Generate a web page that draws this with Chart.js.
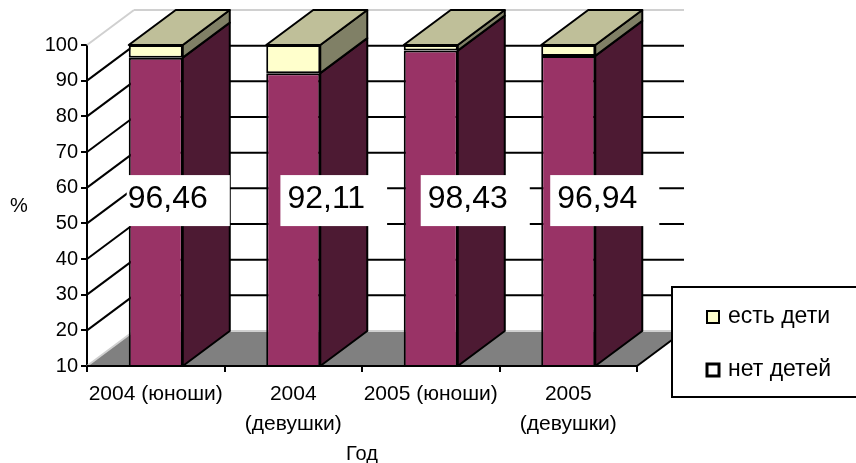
<!DOCTYPE html>
<html>
<head>
<meta charset="utf-8">
<script src="https://cdn.jsdelivr.net/npm/chart.js@4.4.1/dist/chart.umd.min.js"></script>
<style>
  html, body { margin: 0; padding: 0; background: #ffffff; }
  #wrap { width: 856px; height: 463px; }
</style>
</head>
<body>
<div id="wrap"><canvas id="chart" width="856" height="463"></canvas></div>
<script>
// Categories (year / group)
const categories = ['2004 (юноши)', ['2004', '(девушки)'], '2005 (юноши)', ['2005', '(девушки)']];
// Share of respondents, %
const noChildren = [96.46, 92.11, 98.43, 96.94];
const withChildren = [3.54, 7.89, 1.57, 3.06];
const seriesNames = ['нет детей', 'есть дети'];
// Value axis
const yMin = 10;
const yMax = 100;
const yStep = 10;

const FONT = '"Liberation Sans", Arial, Helvetica, sans-serif';
const frontColors = ['#993366', '#FFFFCC'];
const sideColors = ['#4D1A33', '#808066'];
const topColor = '#BFBF99';
const legendSwatch = ['#FFFFFF', '#FFFFCC'];

// Depth of the pseudo-3D box
const DX = 47, DY = 35;
// Value-label placement
const LABEL_LEVEL = 57.5;
const labelShift = [12, 33, 37, 29];

const fmt = v => v.toFixed(2).replace('.', ',');

function seg(ctx, x1, y1, x2, y2) {
  ctx.beginPath(); ctx.moveTo(x1, y1); ctx.lineTo(x2, y2); ctx.stroke();
}
function poly(ctx, pts, fill) {
  ctx.beginPath();
  ctx.moveTo(pts[0][0], pts[0][1]);
  for (let k = 1; k < pts.length; k++) ctx.lineTo(pts[k][0], pts[k][1]);
  ctx.closePath();
  ctx.fillStyle = fill; ctx.fill();
  ctx.strokeStyle = '#000'; ctx.lineWidth = 2; ctx.lineJoin = 'round'; ctx.stroke();
}

const depthPlugin = {
  id: 'depth3d',
  beforeDatasetsDraw(chart) {
    const { ctx, chartArea: a, scales: { y } } = chart;
    const yb = a.bottom;
    ctx.save();
    // floor
    ctx.fillStyle = '#808080';
    ctx.beginPath();
    ctx.moveTo(a.left, yb); ctx.lineTo(a.right, yb);
    ctx.lineTo(a.right + DX, yb - DY); ctx.lineTo(a.left + DX, yb - DY);
    ctx.closePath(); ctx.fill();
    // wall edges
    ctx.strokeStyle = '#d0d0d0'; ctx.lineWidth = 2;
    seg(ctx, a.left, yb, a.left + DX, yb - DY);
    seg(ctx, a.left + DX, yb - DY, a.right + DX, yb - DY);
    seg(ctx, a.left, a.top, a.left + DX, a.top - DY);
    seg(ctx, a.left + DX, a.top - DY, a.right + DX, a.top - DY);
    // gridlines on side and back walls
    ctx.strokeStyle = '#000'; ctx.lineWidth = 2;
    y.ticks.forEach(t => {
      if (t.value <= y.min || t.value >= y.max) return;
      const py = y.getPixelForValue(t.value);
      seg(ctx, a.left, py, a.left + DX, py - DY);
      seg(ctx, a.left + DX, py - DY, a.right + DX, py - DY);
    });
    // right edge of the floor
    seg(ctx, a.right, yb, a.right + DX, yb - DY);
    ctx.restore();
  },
  afterDatasetsDraw(chart) {
    const { ctx, chartArea: a, scales: { y } } = chart;
    ctx.save();
    const metas = chart.data.datasets.map((d, i) => chart.getDatasetMeta(i));
    categories.forEach((c, i) => {
      metas.forEach((meta, d) => {
        const el = meta.data[i];
        const xr = el.x + el.width / 2;
        const top = el.y;
        const bot = Math.min(el.base, a.bottom);
        poly(ctx, [[xr, top], [xr + DX, top - DY], [xr + DX, bot - DY], [xr, bot]], sideColors[d]);
        if (d === metas.length - 1) {
          const xl = el.x - el.width / 2;
          poly(ctx, [[xl, top], [xr, top], [xr + DX, top - DY], [xl + DX, top - DY]], topColor);
        }
      });
    });
    // front edge of the floor
    ctx.strokeStyle = '#000'; ctx.lineWidth = 2;
    seg(ctx, a.left, a.bottom, a.right, a.bottom);

    // value labels
    ctx.font = '32px ' + FONT;
    ctx.textBaseline = 'alphabetic';
    ctx.textAlign = 'left';
    const base = chart.getDatasetMeta(0);
    noChildren.forEach((v, i) => {
      const el = base.data[i];
      const text = fmt(v);
      const w = ctx.measureText(text).width;
      const cx = el.x + labelShift[i];
      const cy = y.getPixelForValue(LABEL_LEVEL);
      const tl = cx - w / 2;
      ctx.fillStyle = '#ffffff';
      ctx.fillRect(tl - (i === 0 ? 1 : 7), cy - 21.5, w + (i === 0 ? 23 : 29), 51);
      ctx.fillStyle = '#000000';
      ctx.fillText(text, tl, cy + 11.5);
    });
    ctx.restore();
  },
  afterDraw(chart) {
    const { ctx } = chart;
    ctx.save();
    // axis titles
    ctx.fillStyle = '#000';
    ctx.font = '20px ' + FONT;
    ctx.textAlign = 'center';
    ctx.textBaseline = 'alphabetic';
    ctx.fillText('%', 19, 212);
    ctx.fillText('Год', chart.chartArea.left + (chart.chartArea.right - chart.chartArea.left) / 2, 460);

    // legend
    ctx.fillStyle = '#ffffff';
    ctx.fillRect(672, 287, 200, 110);
    ctx.strokeStyle = '#000'; ctx.lineWidth = 2;
    ctx.strokeRect(672, 287, 200, 110);
    const order = [1, 0];
    ctx.font = '23px ' + FONT;
    ctx.textAlign = 'left';
    order.forEach((d, r) => {
      const cy = 317 + r * 53;
      ctx.fillStyle = legendSwatch[d];
      ctx.fillRect(707, cy - 6, 12, 12);
      ctx.strokeStyle = '#000';
      ctx.lineWidth = d === 0 ? 3 : 2;
      ctx.strokeRect(707, cy - 6, 12, 12);
      ctx.fillStyle = '#000';
      ctx.fillText(chart.data.datasets[d].label, 728, cy + 6);
    });
    ctx.restore();
  }
};

new Chart(document.getElementById('chart'), {
  type: 'bar',
  data: {
    labels: categories,
    datasets: [
      { label: seriesNames[0], data: noChildren, backgroundColor: frontColors[0] },
      { label: seriesNames[1], data: withChildren, backgroundColor: frontColors[1] }
    ]
  },
  options: {
    responsive: false,
    animation: false,
    devicePixelRatio: 1,
    layout: { padding: { top: 45, right: 219, left: 0, bottom: 0 } },
    datasets: {
      bar: {
        borderColor: '#000',
        borderWidth: 2,
        borderSkipped: false,
        categoryPercentage: 1,
        barPercentage: 0.393,
        clip: { left: 5, top: 5, right: 5, bottom: 0 }
      }
    },
    plugins: {
      legend: { display: false },
      tooltip: { enabled: false },
      title: { display: false }
    },
    scales: {
      x: {
        stacked: true,
        offset: true,
        ticks: {
          color: '#000',
          font: { size: 21, family: FONT, lineHeight: 1.4 },
          padding: 8,
          maxRotation: 0,
          autoSkip: false
        },
        grid: { display: true, drawOnChartArea: false, drawTicks: true, tickLength: 6, color: '#000', lineWidth: 2, offset: true },
        border: { display: true, color: '#000', width: 2 },
        afterFit(s) { s.height = 97; }
      },
      y: {
        stacked: true,
        min: yMin,
        max: yMax,
        ticks: { stepSize: yStep, color: '#000', font: { size: 20, family: FONT }, padding: 3 },
        grid: { display: true, drawOnChartArea: false, drawTicks: true, tickLength: 6, color: '#000', lineWidth: 2 },
        border: { display: true, color: '#000', width: 2 },
        afterFit(s) { s.width = 87; }
      }
    }
  },
  plugins: [depthPlugin]
});
</script>
</body>
</html>
